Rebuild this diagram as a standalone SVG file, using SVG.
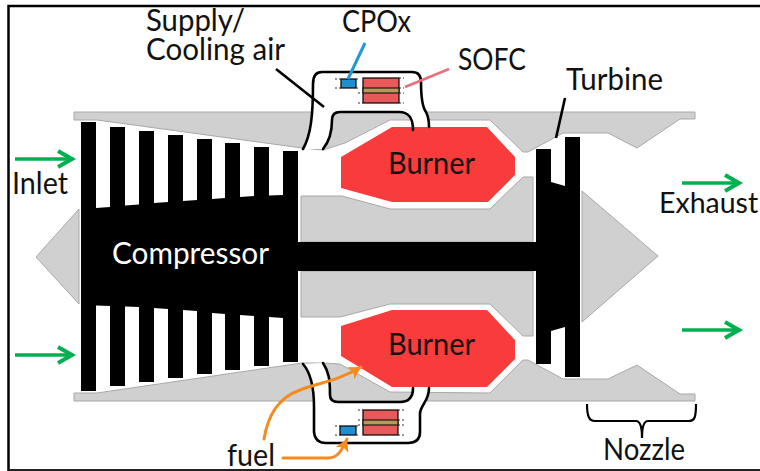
<svg xmlns="http://www.w3.org/2000/svg" width="760" height="471" viewBox="0 0 760 471">
<style>
text{font-family:"Lato","Liberation Sans",sans-serif;font-size:30px;fill:#111}
.g{fill:#d0d0d0;stroke:#a8a8a8;stroke-width:1}
.k{fill:#000}
.b{fill:#f83c3c}
.w{fill:none;stroke:#000;stroke-width:2.6;stroke-linecap:round;stroke-linejoin:round}
.d{fill:#fff}
.cp{fill:#1f8fd0;stroke:#000;stroke-width:1.2}
.so{fill:#e85a5a;stroke:#000;stroke-width:1.2}
.ba{fill:#b49a5a;stroke:#000;stroke-width:1}
.dot{stroke:#333;stroke-width:1;stroke-dasharray:2 2;fill:none}
.ga{fill:none;stroke:#00b050;stroke-width:3.6;marker-end:url(#gh)}
.oa{fill:none;stroke:#f58a1f;stroke-width:3;stroke-linecap:round;marker-end:url(#oh)}
</style>
<defs>
<marker id="gh" markerUnits="userSpaceOnUse" markerWidth="24" markerHeight="24" refX="17" refY="10" orient="auto"><path d="M2 2L16 10L2 18" fill="none" stroke="#00b050" stroke-width="4"/></marker>
<marker id="oh" markerUnits="userSpaceOnUse" markerWidth="20" markerHeight="20" refX="12" refY="8" orient="auto"><path d="M0 1L12 8L0 15L3 8Z" fill="#f58a1f"/></marker>
</defs>
<rect width="760" height="471" fill="#fff"/>
<g id="frame"><path d="M8.500 471V6H760" fill="none" stroke="#000" stroke-width="2.500"/><path d="M8.500 470H760" fill="none" stroke="#222" stroke-width="2"/></g>
<g id="casing">
<polygon class="g" points="74,112 695,112 695,119 680,119 637,148 608,133 563,133 528,152 523,152 490,120 390,120 345,143 323,150 302,148 97,120 74,120"/>
<polygon class="g" points="74,393 97,393 302,363 323,363 340,364 390,392 490,393 523,360 528,360 563,379 608,379 637,365 680,394 695,394 695,401 74,401"/>
</g>
<g id="centerbody">
<polygon class="g" points="301,196 342,196 390,209 490,209 523,177 533,177 533,242 301,242"/>
<polygon class="g" points="301,271 533,271 533,336 523,336 490,304 390,304 340,317 301,317"/>
<polygon class="g" points="79,209 36,257 79,304"/>
<polygon class="g" points="582,191 658,256 582,322"/>
</g>
<g id="compressor">
<polygon class="k" points="81,122 96,122 96,208 110,207 110,127 125,127 125,205.500 139,204.500 139,131 154,131 154,203 168,202 168,135 183,135 183,201 197,200 197,139 212,139 212,199 225,198 225,143 240,143 240,197 254,196 254,147 269,147 269,195.500 283,195 283,151 298,151 298,242 536,242 536,149 551,149 551,182 565,186 565,137 580,137 580,377 565,377 565,327 551,331 551,364 536,364 536,271 298,271 298,362 283,362 283,318 269,317 269,366 254,366 254,316 240,315 240,370 225,370 225,314 212,313 212,374 197,374 197,311 183,310 183,378 168,378 168,309 154,308 154,382 139,382 139,307 125,306.500 125,386 110,386 110,306 96,305.500 96,391 81,391"/>
<text x="112" y="264" textLength="157" lengthAdjust="spacingAndGlyphs" style="fill:#fff">Compressor</text>
<text x="566" y="90" textLength="97" lengthAdjust="spacingAndGlyphs">Turbine</text>
</g>
<g id="burner-top"><polygon class="b" points="341,157 392,127 487,127 515,157 515,175 488,202 392,202 341,188"/><text x="388" y="174" textLength="87" lengthAdjust="spacingAndGlyphs">Burner</text></g>
<g id="burner-bottom"><polygon class="b" points="341,326 392,310 487,310 515,340 515,359 487,387 392,387 341,356"/><text x="388" y="355" textLength="87" lengthAdjust="spacingAndGlyphs">Burner</text></g>
<g id="duct-top">
<path class="d" d="M303 149C311 135 313 115 313 84Q313 72 322 72H412Q421 72 421 82C421 100 423 108 426 112Q429 118 429 127L413 127C413 118 409 112 399 112H340Q332 112 332 120C332 135 328 143 323 149Z"/>
<path class="w" d="M303 149C311 135 313 115 313 84Q313 72 322 72H412Q421 72 421 82C421 100 423 108 426 112Q429 118 429 127"/>
<path class="w" d="M323 149C328 143 332 135 332 120Q332 112 340 112H399C409 112 413 118 413 130"/>
<rect class="cp" x="341" y="79" width="15" height="9"/><rect class="so" x="363" y="78" width="36" height="25"/><rect class="ba" x="363" y="88" width="36" height="5"/>
<path class="dot" d="M335 79H341M356 79H360M335 88H341M356 88H360M399 78H404M399 88H404M399 93H404M399 103H404M358 93H363M358 103H363"/>
</g>
<g id="duct-bottom">
<path class="d" d="M303 364C310 372 314 385 314 407V432Q315 443 326 443H408Q420 443 420 432V414C420 405 429 402 429 388L413 388C413 396 410 402 400 402H338Q330 402 330 395C330 380 329 372 323 363Z"/>
<path class="w" d="M303 364C310 372 314 385 314 407V432Q315 443 326 443H408Q420 443 420 432V414C420 405 429 402 429 388"/>
<path class="w" d="M323 363C329 372 330 380 330 395Q330 402 338 402H400C410 402 413 396 413 388"/>
<rect class="cp" x="340" y="426" width="16" height="9"/><rect class="so" x="363" y="410" width="35" height="25"/><rect class="ba" x="363" y="420" width="35" height="5"/>
<path class="dot" d="M335 426H340M335 435H340M356 426H360M356 435H360M358 410H363M358 420H363M358 425H363M398 410H404M398 420H404M398 425H404M398 435H404"/>
</g>
<g id="connectors">
<path d="M365 43L348 79" fill="none" stroke="#1f9ad6" stroke-width="3"/>
<path d="M449 69L405 87" fill="none" stroke="#e9707a" stroke-width="2.600"/>
<path d="M276 69L324 107" fill="none" stroke="#000" stroke-width="2.600"/>
<path d="M565 98L556 138" fill="none" stroke="#000" stroke-width="2.600"/>
<path class="ga" d="M15 159H73"/><path class="ga" d="M15 355H73"/><path class="ga" d="M682 183H740"/><path class="ga" d="M682 330H740"/>
<path class="oa" d="M264 439C268 415 278 398 300 390C318 383 338 381 361 367"/>
<path class="oa" d="M283 458H328C338 458 342 450 347 439"/>
<path d="M587 404C587 416 589 421 595 421H636Q642 421 642 438Q642 421 648 421H689C695 421 696 416 696 404" fill="none" stroke="#000" stroke-width="2.200"/>
</g>
<g id="labels">
<text><tspan x="146" y="31" textLength="99" lengthAdjust="spacingAndGlyphs">Supply/</tspan><tspan x="146" y="60" textLength="139" lengthAdjust="spacingAndGlyphs">Cooling air</tspan></text>
<text x="342" y="32" textLength="69" lengthAdjust="spacingAndGlyphs">CPOx</text><text x="458" y="70" textLength="68" lengthAdjust="spacingAndGlyphs">SOFC</text>
<text x="12" y="194" textLength="56" lengthAdjust="spacingAndGlyphs">Inlet</text><text x="659" y="213" style="font-size:28.500px">Exhaust</text>
<text x="603" y="460" textLength="82" lengthAdjust="spacingAndGlyphs">Nozzle</text><text x="227" y="466" textLength="48" lengthAdjust="spacingAndGlyphs">fuel</text>
</g>
</svg>
